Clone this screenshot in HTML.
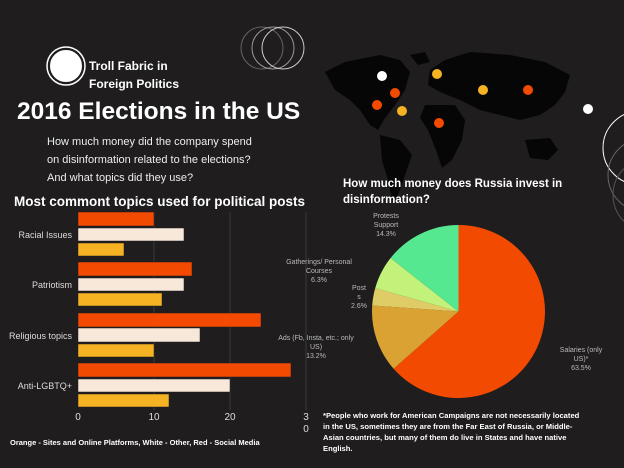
<!DOCTYPE html>
<html><head><style>
body{margin:0;width:624px;height:468px;background:#1f1d1e;overflow:hidden;position:relative;font-family:"Liberation Sans",sans-serif;color:#fff}
.t{position:absolute;white-space:nowrap}
</style></head><body>
<svg width="624" height="468" style="position:absolute;left:0;top:0">
<g fill="#060606">
<path d="M325,72 L345,62 L380,55 L400,60 L410,72 L405,90 L395,105 L385,118 L378,130 L370,125 L360,110 L350,100 L335,90 Z"/>
<path d="M380,135 L400,140 L412,155 L405,175 L398,195 L392,200 L388,180 L382,160 Z"/>
<path d="M430,70 L445,60 L470,52 L510,55 L545,62 L570,75 L565,92 L555,105 L540,115 L520,120 L500,115 L480,110 L460,100 L440,92 L428,85 Z"/>
<path d="M425,105 L455,105 L465,120 L462,140 L452,160 L442,168 L436,150 L428,130 L420,118 Z"/>
<path d="M525,140 L550,138 L558,150 L548,160 L530,158 Z"/>
<path d="M410,55 L425,52 L430,62 L418,65 Z"/>
</g>
<g fill="none" stroke-width="1">
<circle cx="262" cy="48" r="21" stroke="#666"/>
<circle cx="273" cy="48" r="21" stroke="#999"/>
<circle cx="283" cy="48" r="21" stroke="#ccc"/>
<circle cx="640" cy="148" r="37" stroke="#fff"/>
<circle cx="645" cy="175" r="37" stroke="#666"/>
<circle cx="650" cy="195" r="37" stroke="#555"/>
</g>
<circle cx="66" cy="66" r="17" fill="#fff" stroke="#1f1d1e" stroke-width="2"/>
<circle cx="66" cy="66" r="19" fill="none" stroke="#fff" stroke-width="1.5"/>
<circle cx="588" cy="109" r="5" fill="#fff"/>
<g>
<circle cx="382" cy="76" r="5" fill="#fff"/>
<circle cx="437" cy="74" r="5" fill="#f5b324"/>
<circle cx="395" cy="93" r="5" fill="#f24a00"/>
<circle cx="377" cy="105" r="5" fill="#f24a00"/>
<circle cx="402" cy="111" r="5" fill="#f5b324"/>
<circle cx="483" cy="90" r="5" fill="#f5b324"/>
<circle cx="528" cy="90" r="5" fill="#f24a00"/>
<circle cx="439" cy="123" r="5" fill="#f24a00"/>
</g>
<g stroke="#3a3a3a" stroke-width="1">
<line x1="154" y1="212" x2="154" y2="410"/><line x1="230" y1="212" x2="230" y2="410"/><line x1="306" y1="212" x2="306" y2="410"/>
</g>
<g stroke="#1f1d1e" stroke-width="0.5">
<rect x="78" y="212" width="76" height="14" fill="#f24a00"/>
<rect x="78" y="228" width="106" height="13" fill="#f8e8da"/>
<rect x="78" y="243" width="46" height="13" fill="#f5b324"/>
<rect x="78" y="262" width="114" height="14" fill="#f24a00"/>
<rect x="78" y="278" width="106" height="13" fill="#f8e8da"/>
<rect x="78" y="293" width="84" height="13" fill="#f5b324"/>
<rect x="78" y="313" width="183" height="14" fill="#f24a00"/>
<rect x="78" y="328" width="122" height="14" fill="#f8e8da"/>
<rect x="78" y="344" width="76" height="13" fill="#f5b324"/>
<rect x="78" y="363" width="213" height="14" fill="#f24a00"/>
<rect x="78" y="379" width="152" height="13" fill="#f8e8da"/>
<rect x="78" y="394" width="91" height="13" fill="#f5b324"/>
</g>
<g font-family="Liberation Sans" font-size="9" fill="#ddd" text-anchor="end">
<text x="72" y="238">Racial Issues</text>
<text x="72" y="288">Patriotism</text>
<text x="72" y="339">Religious topics</text>
<text x="72" y="389">Anti-LGBTQ+</text>
</g>
<g font-family="Liberation Sans" font-size="10" fill="#ddd" text-anchor="middle">
<text x="78" y="420">0</text><text x="154" y="420">10</text><text x="230" y="420">20</text>
<text x="306" y="420">3</text><text x="306" y="432">0</text>
</g>
<g transform="translate(458.5,311.5)" stroke="none">
<path d="M0,0 L0,-86.5 A86.5,86.5 0 1 1 -64.9,57.2 Z" fill="#f24a00"/>
<path d="M0,0 L-64.9,57.2 A86.5,86.5 0 0 1 -86.3,-6.0 Z" fill="#d9a232"/>
<path d="M0,0 L-86.3,-6.0 A86.5,86.5 0 0 1 -83.3,-23.4 Z" fill="#e0cc66"/>
<path d="M0,0 L-83.3,-23.4 A86.5,86.5 0 0 1 -67.9,-53.5 Z" fill="#c2f27a"/>
<path d="M0,0 L-67.9,-53.5 A86.5,86.5 0 0 1 0,-86.5 Z" fill="#56e890"/>
</g>
<g font-family="Liberation Sans" font-size="7" fill="#bbb" text-anchor="middle">
<text x="386" y="218">Protests</text><text x="386" y="227">Support</text><text x="386" y="236">14.3%</text>
<text x="319" y="264">Gatherings/ Personal</text><text x="319" y="273">Courses</text><text x="319" y="282">6.3%</text>
<text x="359" y="290">Post</text><text x="359" y="299">s</text><text x="359" y="308">2.6%</text>
<text x="316" y="340">Ads (Fb, Insta, etc.; only</text><text x="316" y="349">US)</text><text x="316" y="358">13.2%</text>
<text x="581" y="352">Salaries (only</text><text x="581" y="361">US)*</text><text x="581" y="370">63.5%</text>
</g>
</svg>
<div class="t" style="left:89px;top:57px;font-size:12px;font-weight:bold;line-height:18px">Troll Fabric in<br>Foreign Politics</div>
<div class="t" style="left:17px;top:98px;font-size:24.5px;font-weight:bold">2016 Elections in the US</div>
<div class="t" style="left:47px;top:133px;font-size:11px;line-height:18px;color:#eee">How much money did the company spend<br>on disinformation related to the elections?<br>And what topics did they use?</div>
<div class="t" style="left:14px;top:194px;font-size:13.5px;font-weight:bold">Most commont topics used for political posts</div>
<div class="t" style="left:343px;top:176px;font-size:11.5px;font-weight:bold;line-height:16px">How much money does Russia invest in<br>disinformation?</div>
<div class="t" style="left:10px;top:438px;font-size:7.5px;font-weight:bold">Orange - Sites and Online Platforms, White - Other, Red - Social Media</div>
<div class="t" style="left:323px;top:410px;font-size:7.6px;font-weight:bold;line-height:11px">*People who work for American Campaigns are not necessarily located<br>in the US, sometimes they are from the Far East of Russia, or Middle-<br>Asian countries, but many of them do live in States and have native<br>English.</div>
</body></html>
